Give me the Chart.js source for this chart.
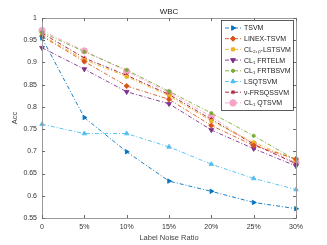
<!DOCTYPE html>
<html><head><meta charset="utf-8">
<script src="https://cdn.jsdelivr.net/npm/chart.js@4"></script>
<style>html,body{margin:0;padding:0;background:#fff;overflow:hidden}canvas{display:block}</style>
</head><body>
<canvas id="c" width="327" height="245"></canvas>
<script>
const categories = ['0','5%','10%','15%','20%','25%','30%'];
const yTicks = [0.55,0.6,0.65,0.7,0.75,0.8,0.85,0.9,0.95,1];
const seriesNames = ['TSVM','LINEX-TSVM','CL₂,ₚ-LSTSVM','CL₁ FRTELM','CL₁ FRTBSVM','LSQTSVM','ν-FRSQSSVM','CL₁ QTSVM'];
const tsvm     = [0.955,0.776,0.699,0.633,0.610,0.585,0.571];
const linex    = [0.959,0.902,0.847,0.817,0.758,0.713,0.683];
const cl2p     = [0.961,0.906,0.868,0.825,0.768,0.720,0.680];
const frtelm   = [0.933,0.885,0.834,0.807,0.748,0.706,0.667];
const frtbsvm  = [0.968,0.924,0.883,0.835,0.786,0.735,0.680];
const lsqtsvm  = [0.761,0.740,0.740,0.710,0.671,0.639,0.614];
const frsqssvm = [0.966,0.910,0.871,0.828,0.772,0.716,0.672];
const qtsvm    = [0.972,0.926,0.880,0.832,0.778,0.716,0.675];

const seriesData = [tsvm,linex,cl2p,frtelm,frtbsvm,lsqtsvm,frsqssvm,qtsvm];
const colors = ['#0072BD','#D95319','#EDB120','#7E2F8E','#77AC30','#4DBEEE','#A2142F','#F5A3C7'];
const pstyles = ['triangle','rectRot','rect','triangle','circle','triangle','star','circle'];
const prot = [90,0,0,180,0,0,0,0];
const prad = [2.6,2.6,2.2,2.8,1.6,2.6,2.2,3.2];

const datasets = seriesData.map((d,i)=>({
  label: seriesNames[i], data: d,
  borderColor: colors[i], backgroundColor: colors[i],
  borderWidth: 0.9, borderDash:[4,2,1,2],
  pointStyle: pstyles[i], pointRotation: prot[i], pointRadius: prad[i],
  pointBorderWidth: 0.8, pointBackgroundColor: colors[i], pointBorderColor: colors[i],
  tension: 0, fill:false
}));

const FONT = 'Liberation Sans, Arial, sans-serif';
const decor = {
  id:'decor',
  afterDraw(chart){
    const ctx = chart.ctx, a = chart.chartArea;
    const xs = chart.scales.x, ys = chart.scales.y;
    ctx.save();
    ctx.strokeStyle = '#9a9a9a'; ctx.lineWidth = 1;
    ctx.strokeRect(a.left+0.5, a.top+0.5, a.right-a.left, a.bottom-a.top);
    ctx.strokeStyle = '#6a6a6a';
    ctx.beginPath();
    categories.forEach((c,i)=>{
      const x = Math.round(xs.getPixelForValue(i))+0.5;
      ctx.moveTo(x,a.bottom); ctx.lineTo(x,a.bottom-3);
      ctx.moveTo(x,a.top); ctx.lineTo(x,a.top+3);
    });
    yTicks.forEach(v=>{
      const y = Math.round(ys.getPixelForValue(v))+0.5;
      ctx.moveTo(a.left,y); ctx.lineTo(a.left+3,y);
      ctx.moveTo(a.right,y); ctx.lineTo(a.right-3,y);
    });
    ctx.stroke();
    ctx.fillStyle = '#222';
    ctx.font = '8px '+FONT; ctx.textAlign='center'; ctx.textBaseline='middle';
    ctx.fillText('WBC', (a.left+a.right)/2, 12);
    ctx.fillStyle = '#444';
    ctx.font = '7.5px '+FONT;
    ctx.fillText('Label Noise Ratio', (a.left+a.right)/2, 238);
    ctx.save(); ctx.translate(15,(a.top+a.bottom)/2); ctx.rotate(-Math.PI/2);
    ctx.fillText('Acc',0,0); ctx.restore();
    const lx = 221, ly = 20, lw = 72, lh = 90;
    ctx.fillStyle='#fff'; ctx.fillRect(lx,ly,lw,lh);
    ctx.strokeStyle='#333'; ctx.lineWidth=0.8; ctx.strokeRect(lx+0.5,ly+0.5,lw,lh);
    ctx.font = '7px '+FONT; ctx.textAlign='left'; ctx.textBaseline='middle';
    seriesNames.forEach((n,i)=>{
      const y = ly + 8 + i*10.7;
      ctx.strokeStyle = colors[i]; ctx.lineWidth=0.9; ctx.setLineDash([4,2,1,2]);
      ctx.beginPath(); ctx.moveTo(lx+4,y); ctx.lineTo(lx+20,y); ctx.stroke();
      ctx.setLineDash([]);
      ctx.fillStyle = colors[i];
      Chart.helpers.drawPoint(ctx,{pointStyle:pstyles[i],rotation:prot[i],radius:prad[i],borderWidth:0.8},lx+12,y);
      ctx.fill();
      ctx.fillStyle='#222';
      ctx.fillText(n, lx+23, y+0.5);
    });
    ctx.restore();
  }
};

new Chart(document.getElementById('c'),{
  type:'line',
  data:{labels:categories, datasets},
  options:{
    responsive:false, animation:false, devicePixelRatio:1,
    layout:{padding:{left:0,top:18,right:31,bottom:0}},
    plugins:{legend:{display:false},title:{display:false},tooltip:{enabled:false}},
    scales:{
      x:{type:'category', offset:false,
        grid:{display:false, drawTicks:false}, border:{display:false},
        ticks:{font:{family:FONT,size:7},color:'#333',padding:5,maxRotation:0,autoSkip:false},
        afterFit(s){s.height=27;}
      },
      y:{min:0.55,max:1,
        grid:{display:false, drawTicks:false}, border:{display:false},
        afterBuildTicks(s){s.ticks = yTicks.map(v=>({value:v}));},
        ticks:{font:{family:FONT,size:7},color:'#333',padding:5,
          callback:(v)=> (Math.round(v*100)/100).toString()},
        afterFit(s){s.width=42;}
      }
    }
  },
  plugins:[decor]
});
</script>
</body></html>
